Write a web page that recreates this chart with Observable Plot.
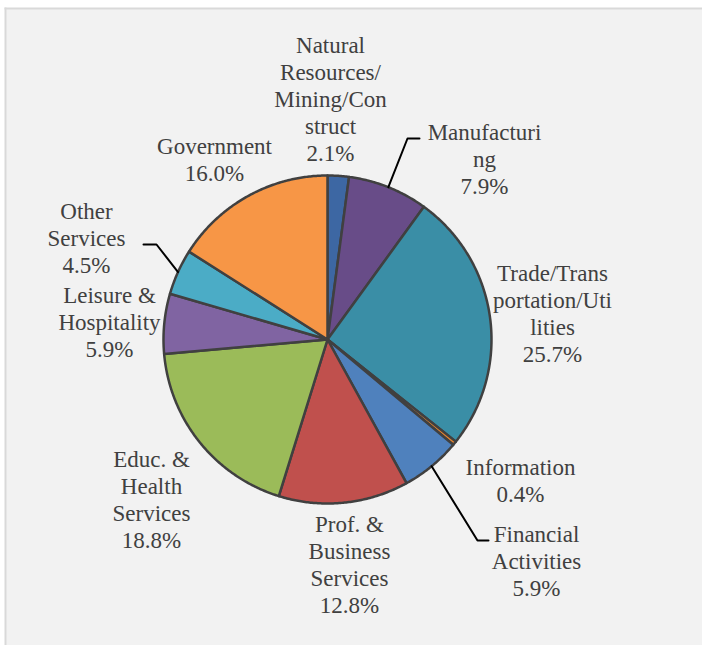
<!DOCTYPE html>
<html>
<head>
<meta charset="utf-8">
<script src="https://cdn.jsdelivr.net/npm/d3@7"></script>
<script src="https://cdn.jsdelivr.net/npm/@observablehq/plot@0.6"></script>
<style>html, body { margin: 0; padding: 0; }</style>
</head>
<body>
<script>
// ---- data ----
const sectors = [
  "Natural Resources/Mining/Construct",
  "Manufacturing",
  "Trade/Transportation/Utilities",
  "Information",
  "Financial Activities",
  "Prof. & Business Services",
  "Educ. & Health Services",
  "Leisure & Hospitality",
  "Other Services",
  "Government"
];
const shares = [2.1, 7.9, 25.7, 0.4, 5.9, 12.8, 18.8, 5.9, 4.5, 16.0];
const labelText = [
  "Natural\nResources/\nMining/Con\nstruct",
  "Manufacturi\nng",
  "Trade/Trans\nportation/Uti\nlities",
  "Information",
  "Financial\nActivities",
  "Prof. &\nBusiness\nServices",
  "Educ. &\nHealth\nServices",
  "Leisure &\nHospitality",
  "Other\nServices",
  "Government"
];

// ---- styles / layout ----
const colors = ["#3D67A3", "#684C88", "#3A8EA6", "#E3832F", "#4F81BD",
                "#C0504D", "#9BBB59", "#8064A2", "#4BACC6", "#F79646"];
const W = 702, H = 645;
const cx = 327, cy = 339, R = 164;
const LINE = 27;
const labelPos = [
  [330, 99], [484, 159], [552, 314], [520, 481], [536, 561],
  [349, 565], [151, 500], [109, 322], [86, 238], [214, 160]
];
// leader lines: [slice index, elbow x, elbow y, end x]
const leaders = [
  [1, 407, 138, 419],
  [8, 156, 244, 143],
  [4, 477, 540, 488]
];

// ---- geometry from data ----
const pie = d3.pie().sort(null).value(d => d.value)(
  sectors.map((name, i) => ({name, value: shares[i], i}))
);
const pt = (a, r) => [cx + r * Math.sin(a), cy - r * Math.cos(a)];
const polys = [];
pie.forEach(s => {
  const n = Math.max(2, Math.ceil((s.endAngle - s.startAngle) / (Math.PI / 360)));
  polys.push({name: s.data.name, x: cx, y: cy});
  for (let k = 0; k <= n; k++) {
    const a = s.startAngle + (s.endAngle - s.startAngle) * k / n;
    const [x, y] = pt(a, R);
    polys.push({name: s.data.name, x, y});
  }
  polys.push({name: s.data.name, x: cx, y: cy});
});

// one text mark per label, one datum per line
const labelMarks = pie.map((s, i) => {
  const lines = (labelText[i] + "\n" + shares[i].toFixed(1) + "%").split("\n");
  const rows = lines.map((t, k) => ({
    x: labelPos[i][0], y: labelPos[i][1] + (k - (lines.length - 1) / 2) * LINE, text: t
  }));
  return Plot.text(rows, {x: "x", y: "y", text: "text", fontSize: 23,
    fontFamily: "Liberation Serif", fill: "#404040"});
});

const leaderPts = [];
leaders.forEach(([i, ex, ey, tx], j) => {
  const s = pie[i];
  const [x0, y0] = pt((s.startAngle + s.endAngle) / 2, R);
  leaderPts.push({g: j, x: x0, y: y0}, {g: j, x: ex, y: ey}, {g: j, x: tx, y: ey});
});

const chart = Plot.plot({
  width: W, height: H,
  margin: 0,
  x: {domain: [0, W], range: [0, W], axis: null},
  y: {domain: [0, H], range: [0, H], axis: null},
  color: {domain: sectors, range: colors},
  marks: [
    Plot.frame({fill: "#F2F2F2", stroke: "none", insetLeft: 5, insetTop: 8}),
    Plot.frame({anchor: "left", stroke: "#D9D9D9", strokeWidth: 2, insetLeft: 5, insetTop: 8}),
    Plot.frame({anchor: "top", stroke: "#D9D9D9", strokeWidth: 2, insetLeft: 5, insetTop: 8}),
    Plot.line(polys, {x: "x", y: "y", z: "name", fill: "name", stroke: "#404040",
      strokeWidth: 2.5, strokeLinejoin: "round", curve: "linear"}),
    Plot.line(leaderPts, {x: "x", y: "y", z: "g", stroke: "#000000", strokeWidth: 2}),
    ...labelMarks
  ]
});
document.body.appendChild(chart);
</script>
</body>
</html>
